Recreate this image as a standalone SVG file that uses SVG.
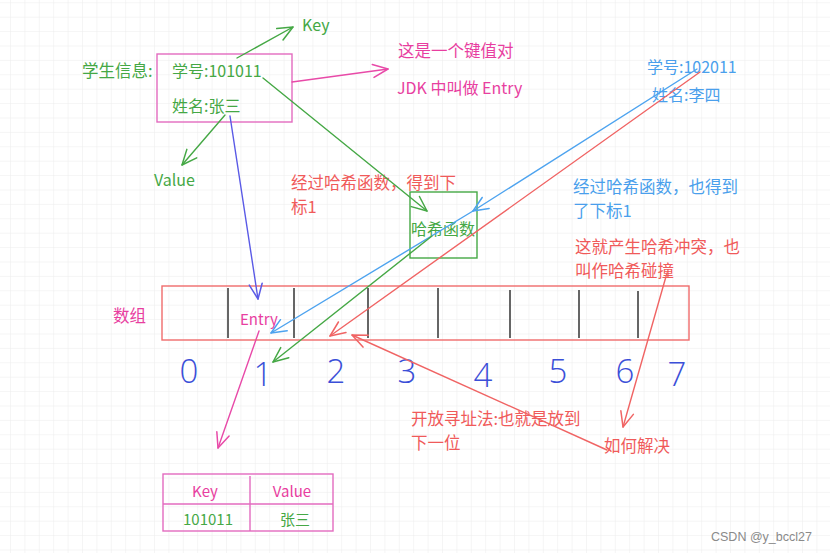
<svg xmlns="http://www.w3.org/2000/svg" width="830" height="553" viewBox="0 0 830 553">
<defs>
<pattern id="grid" x="10" y="2.3" width="14.4" height="14.4" patternUnits="userSpaceOnUse">
<path d="M0 0 H14.4 M0 0 V14.4" fill="none" stroke="#ececec" stroke-width="1"/>
</pattern>
<marker id="ag" markerUnits="userSpaceOnUse" markerWidth="30" markerHeight="30" refX="0" refY="0" viewBox="-20 -15 30 30" orient="auto" overflow="visible"><path d="M-15,-6.5 L0,0 L-15,6.5" fill="none" stroke="#45a845" stroke-width="1.5" stroke-linecap="round" stroke-linejoin="round"/></marker>
<marker id="ap" markerUnits="userSpaceOnUse" markerWidth="30" markerHeight="30" refX="0" refY="0" viewBox="-20 -15 30 30" orient="auto" overflow="visible"><path d="M-15,-6.5 L0,0 L-15,6.5" fill="none" stroke="#e84aa8" stroke-width="1.5" stroke-linecap="round" stroke-linejoin="round"/></marker>
<marker id="ar" markerUnits="userSpaceOnUse" markerWidth="30" markerHeight="30" refX="0" refY="0" viewBox="-20 -15 30 30" orient="auto" overflow="visible"><path d="M-15,-6.5 L0,0 L-15,6.5" fill="none" stroke="#f06464" stroke-width="1.5" stroke-linecap="round" stroke-linejoin="round"/></marker>
<marker id="ab" markerUnits="userSpaceOnUse" markerWidth="30" markerHeight="30" refX="0" refY="0" viewBox="-20 -15 30 30" orient="auto" overflow="visible"><path d="M-15,-6.5 L0,0 L-15,6.5" fill="none" stroke="#4da3ef" stroke-width="1.5" stroke-linecap="round" stroke-linejoin="round"/></marker>
<marker id="av" markerUnits="userSpaceOnUse" markerWidth="30" markerHeight="30" refX="0" refY="0" viewBox="-20 -15 30 30" orient="auto" overflow="visible"><path d="M-15,-6.5 L0,0 L-15,6.5" fill="none" stroke="#5a5ae6" stroke-width="1.5" stroke-linecap="round" stroke-linejoin="round"/></marker>
</defs>
<style>
text { font-family: "Noto Sans CJK SC", "Noto Sans", sans-serif; }
.g { fill: #45a845; }
.p { fill: #e83ea0; }
.r { fill: #f05a5a; }
.b { fill: #4a9fec; }
.t17 { font-size: 16.5px; }
.t16 { font-size: 16px; }
.t15 { font-size: 15px; }
.dg { font-family: "Open Sans", "Liberation Sans", sans-serif; font-weight: 300; font-size: 33px; fill: #3b4fd8; text-anchor: middle; }
.ln { fill: none; stroke-width: 1.4; stroke-linecap: round; }
.lg { stroke: #45a845; }
.lp { stroke: #e84aa8; }
.lr { stroke: #f06464; }
.lb { stroke: #4da3ef; }
.lv { stroke: #5a5ae6; }
.box { fill: none; stroke-width: 1.4; }
.div { stroke: #666; stroke-width: 2; }
</style>
<rect width="830" height="553" fill="#ffffff"/>
<rect width="830" height="553" fill="url(#grid)"/>

<g id="student1">
<text class="g t17" x="82" y="77">学生信息:</text>
<rect class="box" x="157" y="54" width="135" height="68" stroke="#e36bbf"/>
<text class="g t16" x="172" y="77">学号:101011</text>
<text class="g t16" x="172" y="112">姓名:张三</text>
</g>
<g id="key-label"><text class="g t16" x="302" y="31">Key</text></g>
<g id="value-label"><text class="g t16" x="154" y="186">Value</text></g>
<g id="entry-note">
<text class="p t17" x="398" y="57">这是一个键值对</text>
<text class="p t16" x="397" y="94">JDK 中叫做 Entry</text>
</g>
<g id="student2">
<text class="b t16" x="647" y="73">学号:102011</text>
<text class="b t16" x="652" y="101">姓名:李四</text>
</g>
<g id="note-red1">
<text class="r t17" x="291" y="189">经过哈希函数，得到下</text>
<text class="r t17" x="291" y="213">标1</text>
</g>
<g id="hash">
<rect class="box" x="410" y="192" width="67" height="66" stroke="#45a845"/>
<text class="g t16" x="411" y="235">哈希函数</text>
</g>
<g id="note-blue">
<text class="b t17" x="573" y="193">经过哈希函数，也得到</text>
<text class="b t17" x="573" y="217">了下标1</text>
</g>
<g id="note-red2">
<text class="r t17" x="575" y="253">这就产生哈希冲突，也</text>
<text class="r t17" x="575" y="277">叫作哈希碰撞</text>
</g>
<g id="array">
<text class="p t17" x="113" y="322">数组</text>
<rect class="box" x="162" y="286" width="527" height="54" stroke="#f06c6c"/>
<line class="div" x1="228" y1="288" x2="228" y2="338"/>
<line class="div" x1="294" y1="288" x2="294" y2="338"/>
<line class="div" x1="368" y1="288" x2="368" y2="338"/>
<line class="div" x1="438" y1="288" x2="438" y2="338"/>
<line class="div" x1="510" y1="290" x2="510" y2="338"/>
<line class="div" x1="579" y1="290" x2="579" y2="338"/>
<line class="div" x1="638" y1="291" x2="638" y2="338"/>
<text class="p t15" x="240" y="325">Entry</text>
</g>
<g id="indices">
<text class="dg" x="189" y="383">0</text>
<text class="dg" x="263" y="386">1</text>
<text class="dg" x="336" y="383">2</text>
<text class="dg" x="407" y="383">3</text>
<text class="dg" x="483" y="387">4</text>
<text class="dg" x="558" y="383">5</text>
<text class="dg" x="625" y="383">6</text>
<text class="dg" x="677" y="386">7</text>
</g>
<g id="note-open">
<text class="r t17" x="411" y="425">开放寻址法:也就是放到</text>
<text class="r t17" x="411" y="449">下一位</text>
</g>
<g id="how"><text class="r t17" x="604" y="452">如何解决</text></g>
<g id="kv-table">
<rect class="box" x="163" y="474" width="170" height="57" stroke="#e36bbf"/>
<line x1="163" y1="504" x2="333" y2="504" stroke="#e36bbf" stroke-width="1.4"/>
<line x1="250" y1="476" x2="250" y2="531" stroke="#e36bbf" stroke-width="1.4"/>
<text class="p t15" x="205" y="497" text-anchor="middle">Key</text>
<text class="p t15" x="292" y="497" text-anchor="middle">Value</text>
<text class="g t15" x="208" y="525" text-anchor="middle">101011</text>
<text class="g t15" x="295" y="525" text-anchor="middle">张三</text>
</g>
<g id="watermark"><text x="711" y="541" font-size="12.5" fill="#8a8a8a" style="font-family: 'Liberation Sans', Arial, sans-serif">CSDN @y_bccl27</text></g>

<g id="connectors">
<line class="ln lg" x1="237" y1="58" x2="293" y2="27" marker-end="url(#ag)"/>
<line class="ln lg" x1="225" y1="115" x2="182" y2="165" marker-end="url(#ag)"/>
<line class="ln lp" x1="292" y1="82" x2="388" y2="69" marker-end="url(#ap)"/>
<line class="ln lv" x1="230" y1="116" x2="258" y2="299" marker-end="url(#av)"/>
<line class="ln lg" x1="263" y1="78" x2="427" y2="211" marker-end="url(#ag)"/>
<line class="ln lb" x1="697" y1="69" x2="473" y2="211" marker-end="url(#ab)"/>
<line class="ln lb" x1="473" y1="211" x2="271" y2="333" marker-end="url(#ab)"/>
<line class="ln lr" x1="700" y1="72" x2="330" y2="336" marker-end="url(#ar)"/>
<line class="ln lg" x1="432" y1="236" x2="273" y2="362" marker-end="url(#ag)"/>
<line class="ln lp" x1="259" y1="331" x2="218" y2="448" marker-end="url(#ap)"/>
<line class="ln lr" x1="667" y1="273" x2="623" y2="427" marker-end="url(#ar)"/>
<line class="ln lr" x1="607" y1="450" x2="352" y2="335" marker-end="url(#ar)"/>
</g>
</svg>
